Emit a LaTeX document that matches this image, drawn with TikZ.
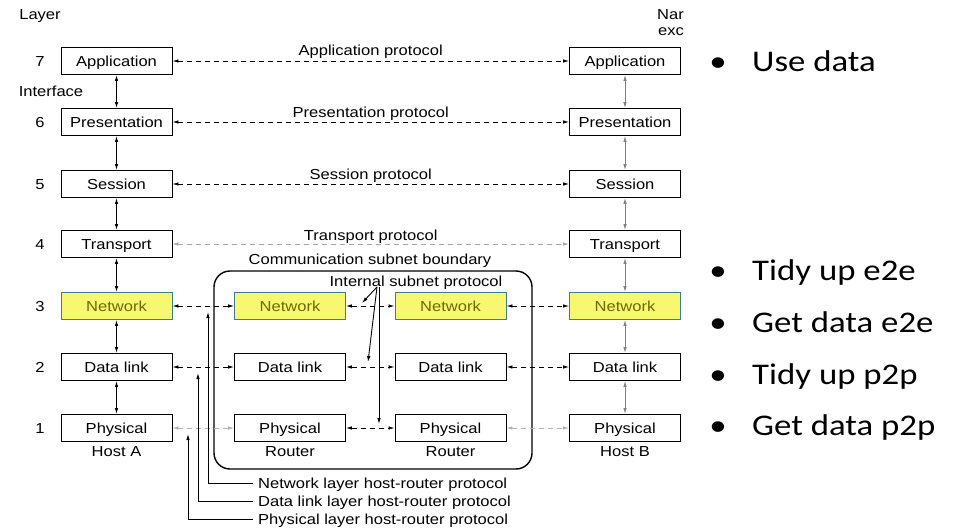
\documentclass[tikz,border=0pt]{standalone}
\usepackage{fontspec}
\setmainfont{Liberation Sans}
\newfontfamily\diagfont[FakeStretch=1.14]{Liberation Sans}
\newfontfamily\slidefont[FakeStretch=1.16]{Carlito}
\usetikzlibrary{arrows.meta}
\definecolor{netfill}{HTML}{F8F870}
\definecolor{netedge}{HTML}{3C7C96}
\definecolor{nettext}{HTML}{6A6A00}
\tikzset{
  layerbox/.style={draw, line width=0.9pt, minimum width=111pt, minimum height=27pt,
    inner sep=0pt, text height=10.4pt, text depth=0pt, font=\diagfont\fontsize{14.5}{16}\selectfont},
  netbox/.style={layerbox, fill=netfill, draw=netedge, text=nettext},
  proto/.style={line width=0.8pt, dash pattern=on 5pt off 4pt, {Latex[length=6pt,width=3.5pt]}-{Latex[length=6pt,width=3.5pt]}},
  iface/.style={line width=0.9pt, {Latex[length=6pt,width=3.5pt]}-{Latex[length=6pt,width=3.5pt]}},
  lbl/.style={font=\diagfont\fontsize{14.5}{16}\selectfont, inner sep=0pt, text height=10.4pt, text depth=0pt},
  slide/.style={font=\slidefont\fontsize{30}{34}\selectfont, inner sep=0pt, anchor=base west}
}
\begin{document}
\begin{tikzpicture}[x=1pt,y=-1pt]
  \useasboundingbox (0,0) rectangle (955,529);
  % Tiêu đề cột
  \node[lbl] (layer) at (40,14) {Layer};
  \node[lbl] (interface) at (51,91) {Interface};
  \node[lbl, anchor=east] (nar) at (684,14) {Nar};
  \node[lbl, anchor=east] (exc) at (684,30) {exc};

  % Số thứ tự tầng
  \node[lbl] (n7) at (40,61) {7};
  \node[lbl] (n6) at (40,122) {6};
  \node[lbl] (n5) at (40,184) {5};
  \node[lbl] (n4) at (40,244) {4};
  \node[lbl] (n3) at (40,306) {3};
  \node[lbl] (n2) at (40,367) {2};
  \node[lbl] (n1) at (40,428) {1};

  % Host A
  \node[layerbox] (A7) at (116.5,61) {Application};
  \node[layerbox] (A6) at (116.5,122) {Presentation};
  \node[layerbox] (A5) at (116.5,184) {Session};
  \node[layerbox] (A4) at (116.5,244) {Transport};
  \node[netbox]   (A3) at (116.5,306) {Network};
  \node[layerbox] (A2) at (116.5,367) {Data link};
  \node[layerbox] (A1) at (116.5,428) {Physical};
  \node[lbl] (hostA) at (116.5,451) {Host A};

  % Host B
  \node[layerbox] (B7) at (625,61) {Application};
  \node[layerbox] (B6) at (625,122) {Presentation};
  \node[layerbox] (B5) at (625,184) {Session};
  \node[layerbox] (B4) at (625,244) {Transport};
  \node[netbox]   (B3) at (625,306) {Network};
  \node[layerbox] (B2) at (625,367) {Data link};
  \node[layerbox] (B1) at (625,428) {Physical};
  \node[lbl] (hostB) at (625,451) {Host B};

  % Hai router
  \node[netbox]   (R3) at (290,306) {Network};
  \node[layerbox] (R2) at (290,367) {Data link};
  \node[layerbox] (R1) at (290,428) {Physical};
  \node[lbl] (routerR) at (290,451) {Router};
  \node[netbox]   (S3) at (450.5,306) {Network};
  \node[layerbox] (S2) at (450.5,367) {Data link};
  \node[layerbox] (S1) at (450.5,428) {Physical};
  \node[lbl] (routerS) at (450.5,451) {Router};

  % Biên mạng con
  \draw[line width=1.4pt, rounded corners=16pt] (214,271) rectangle (532,469);
  \node[lbl] (boundary) at (370,259) {Communication subnet boundary};
  \node[lbl] (internal) at (416,281) {Internal subnet protocol};

  % Giao diện
  \draw[iface] (A7) -- (A6);
  \draw[iface] (A6) -- (A5);
  \draw[iface] (A5) -- (A4);
  \draw[iface] (A4) -- (A3);
  \draw[iface] (A3) -- (A2);
  \draw[iface] (A2) -- (A1);
  \draw[iface, draw=gray] (B7) -- (B6);
  \draw[iface, draw=gray] (B6) -- (B5);
  \draw[iface, draw=gray] (B5) -- (B4);
  \draw[iface, draw=gray] (B4) -- (B3);
  \draw[iface, draw=gray] (B3) -- (B2);
  \draw[iface, draw=gray] (B2) -- (B1);

  % Giao thức đầu cuối
  \draw[proto] (A7) -- node[lbl, above=5.5pt] {Application protocol} (B7);
  \draw[proto] (A6) -- node[lbl, above=4.5pt] {Presentation protocol} (B6);
  \draw[proto] (A5) -- node[lbl, above=4.5pt] {Session protocol} (B5);
  \draw[proto, draw=gray!70] (A4) -- node[lbl, above=3.5pt] {Transport protocol} (B4);

  % Giao thức từng chặng
  \draw[proto] (A3) -- (R3);
  \draw[proto] (R3) -- (S3);
  \draw[proto] (S3) -- (B3);
  \draw[proto] (A2) -- (R2);
  \draw[proto] (R2) -- (S2);
  \draw[proto] (S2) -- (B2);
  \draw[proto, draw=gray!60] (A1) -- (R1);
  \draw[proto] (R1) -- (S1);
  \draw[proto, draw=gray!60] (S1) -- (B1);

  % Mũi tên giao thức nội bộ
  \coordinate (isp) at (377,287);
  \coordinate (isp3) at (362,303);
  \coordinate (isp2) at (368,362);
  \coordinate (isp1) at (379,424);
  \draw[line width=0.9pt, -{Latex[length=6pt,width=3.5pt]}] (isp) -- (isp3);
  \draw[line width=0.9pt, -{Latex[length=6pt,width=3.5pt]}] (isp) -- (isp2);
  \draw[line width=0.9pt, -{Latex[length=6pt,width=3.5pt]}] ([xshift=2pt]isp) -- (isp1);

  % Giao thức host-router
  \node[lbl, anchor=west, inner xsep=5pt] (nhr) at (253,483) {Network layer host-router protocol};
  \node[lbl, anchor=west, inner xsep=5pt] (dhr) at (253,501) {Data link layer host-router protocol};
  \node[lbl, anchor=west, inner xsep=5pt] (phr) at (253,519) {Physical layer host-router protocol};
  \coordinate (nhrtip) at (208,312);
  \coordinate (dhrtip) at (198,373);
  \coordinate (phrtip) at (188,434);
  \draw[line width=0.9pt, -{Latex[length=6pt,width=3.5pt]}] (nhr.west) -| (nhrtip);
  \draw[line width=0.9pt, -{Latex[length=6pt,width=3.5pt]}] (dhr.west) -| (dhrtip);
  \draw[line width=0.9pt, -{Latex[length=6pt,width=3.5pt]}] (phr.west) -| (phrtip);

  % Ghi chú bên phải
  \node[slide, anchor=base] (d1) at (718,72) {•};
  \node[slide] (t1) at (752,72) {Use data};
  \node[slide, anchor=base] (d2) at (718,280) {•};
  \node[slide] (t2) at (752,280) {Tidy up e2e};
  \node[slide, anchor=base] (d3) at (718,332) {•};
  \node[slide] (t3) at (752,332) {Get data e2e};
  \node[slide, anchor=base] (d4) at (718,384) {•};
  \node[slide] (t4) at (752,384) {Tidy up p2p};
  \node[slide, anchor=base] (d5) at (718,435) {•};
  \node[slide] (t5) at (752,435) {Get data p2p};
\end{tikzpicture}
\end{document}
